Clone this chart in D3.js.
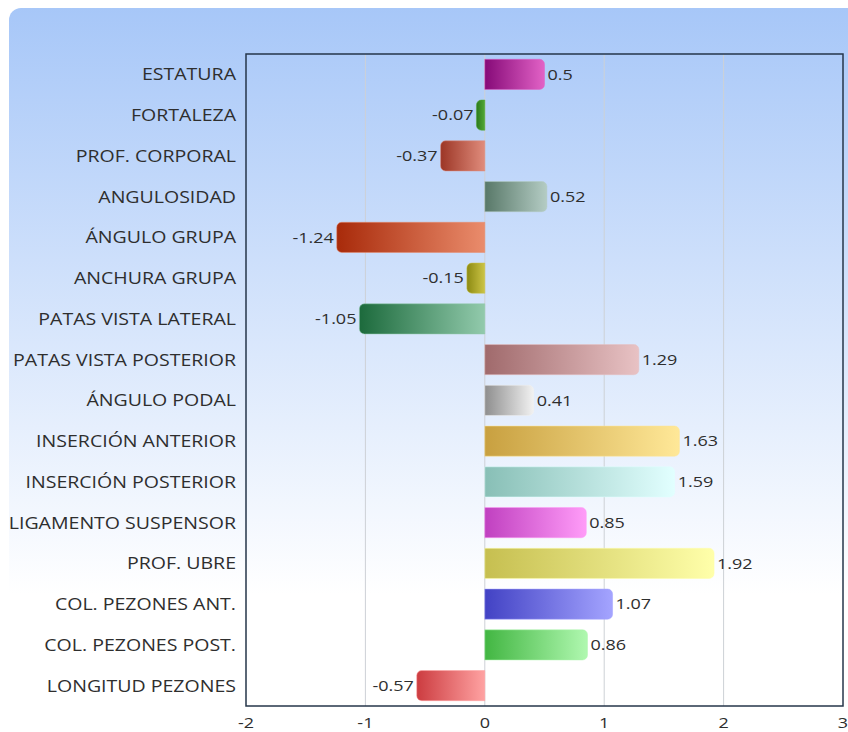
<!DOCTYPE html>
<html>
<head>
<meta charset="utf-8">
<script src="https://cdn.jsdelivr.net/npm/d3@7"></script>
<style>
  body { margin: 0; background: #fff; }
  text { font-family: "Open Sans", "DejaVu Sans", sans-serif; fill: #2e2e2e; }
</style>
</head>
<body>
<div class="viz"></div>
<script>
// data
var categories = ["ESTATURA", "FORTALEZA", "PROF. CORPORAL", "ANGULOSIDAD", "ÁNGULO GRUPA",
  "ANCHURA GRUPA", "PATAS VISTA LATERAL", "PATAS VISTA POSTERIOR", "ÁNGULO PODAL",
  "INSERCIÓN ANTERIOR", "INSERCIÓN POSTERIOR", "LIGAMENTO SUSPENSOR", "PROF. UBRE",
  "COL. PEZONES ANT.", "COL. PEZONES POST.", "LONGITUD PEZONES"];
var values = [0.5, -0.07, -0.37, 0.52, -1.24, -0.15, -1.05, 1.29, 0.41, 1.63, 1.59, 0.85, 1.92, 1.07, 0.86, -0.57];
var darkColors = ["#860a78", "#2c7a1c", "#9c3626", "#587868", "#a82a0a", "#8c8a12", "#1c6a3c", "#a06a6c",
  "#8e8e8e", "#c8a040", "#88bfb6", "#c040c0", "#c6bf50", "#4242c4", "#42b642", "#cc3c40"];
var lightColors = ["#e262c6", "#52a836", "#e08c7c", "#b4ccc4", "#ea8c6c", "#ccc446", "#92caac", "#e8c2c4",
  "#f2f2f2", "#ffe898", "#e2ffff", "#ff9cf8", "#ffffaa", "#a4a4ff", "#b0f8b0", "#ffa2a2"];
var xTicks = [-2, -1, 0, 1, 2, 3];

// dimensions
var W = 848, H = 732;
var margin = { top: 54, right: 5, bottom: 26, left: 246 };
var width = 597, height = 652;
var radius = 5;
var stretch = 1.15; // text looks horizontally widened in the original

var svg = d3.select(".viz").append("svg")
  .attr("width", W).attr("height", H);

var defs = svg.append("defs");

// background gradient
var bg = defs.append("linearGradient").attr("id", "bg")
  .attr("x1", 0).attr("y1", 0).attr("x2", 0).attr("y2", 1);
bg.append("stop").attr("offset", "0%").attr("stop-color", "#a7c7f8");
bg.append("stop").attr("offset", "78%").attr("stop-color", "#ffffff");

svg.append("rect")
  .attr("x", 9).attr("y", 8).attr("width", W + 20).attr("height", H + 20)
  .attr("rx", 12)
  .attr("fill", "url(#bg)");

// bar gradients
categories.forEach(function(c, i) {
  var g = defs.append("linearGradient").attr("id", "grad" + i)
    .attr("x1", 0).attr("y1", 0).attr("x2", 1).attr("y2", 0);
  g.append("stop").attr("offset", "0%").attr("stop-color", darkColors[i]);
  g.append("stop").attr("offset", "100%").attr("stop-color", lightColors[i]);
});

// scales
var xScale = d3.scaleLinear().domain([-2, 3]).range([0, width]);
var yScale = d3.scaleBand().domain(categories).range([0, height])
  .paddingInner(0.26).paddingOuter(0.13);

var plot = svg.append("g")
  .attr("transform", "translate(" + margin.left + "," + margin.top + ")");

// grid lines
plot.append("g").selectAll("line")
  .data(xTicks.slice(1, -1))
  .enter().append("line")
  .attr("x1", d => xScale(d)).attr("x2", d => xScale(d))
  .attr("y1", 0).attr("y2", height)
  .attr("stroke", "#cdd1d6").attr("stroke-width", 1);

// bar path: rounded only at the value end
function barPath(v, i) {
  var x0 = xScale(0), x1 = xScale(v);
  var y0 = yScale(categories[i]), h = yScale.bandwidth();
  var r = Math.min(radius, Math.abs(x1 - x0));
  var s = v >= 0 ? 1 : -1;
  var p = d3.path();
  p.moveTo(x0, y0);
  p.lineTo(x1 - s * r, y0);
  p.arcTo(x1, y0, x1, y0 + r, r);
  p.lineTo(x1, y0 + h - r);
  p.arcTo(x1, y0 + h, x1 - s * r, y0 + h, r);
  p.lineTo(x0, y0 + h);
  p.closePath();
  return p.toString();
}

plot.append("g").selectAll("path")
  .data(values)
  .enter().append("path")
  .attr("d", (d, i) => barPath(d, i))
  .attr("fill", (d, i) => "url(#grad" + i + ")")
  .attr("stroke", (d, i) => lightColors[i])
  .attr("stroke-opacity", 0.5)
  .attr("stroke-width", 1);

// value labels
plot.append("g").selectAll("text")
  .data(values)
  .enter().append("text")
  .attr("transform", (d, i) => "translate(" + (d >= 0 ? xScale(d) + 3 : xScale(d) - 3) + "," +
    (yScale(categories[i]) + yScale.bandwidth() / 2) + ") scale(1.2,1)")
  .attr("dy", "0.35em")
  .attr("text-anchor", d => d >= 0 ? "start" : "end")
  .style("font-size", "15px")
  .text(d => d);

// category labels
plot.append("g").selectAll("text")
  .data(categories)
  .enter().append("text")
  .attr("transform", d => "translate(-10," + (yScale(d) + yScale.bandwidth() / 2) + ") scale(" + stretch + ",1)")
  .attr("dy", "0.35em")
  .attr("text-anchor", "end")
  .style("font-size", "17px")
  .text(d => d);

// x axis labels
plot.append("g").selectAll("text")
  .data(xTicks)
  .enter().append("text")
  .attr("transform", d => "translate(" + xScale(d) + "," + (height + 17) + ") scale(1.2,1)")
  .attr("dy", "0.35em")
  .attr("text-anchor", "middle")
  .style("font-size", "15px")
  .text(d => d);

// frame
plot.append("rect")
  .attr("x", 0).attr("y", 0).attr("width", width).attr("height", height)
  .attr("fill", "none")
  .attr("stroke", "#26364a").attr("stroke-width", 1.5);
</script>
</body>
</html>
